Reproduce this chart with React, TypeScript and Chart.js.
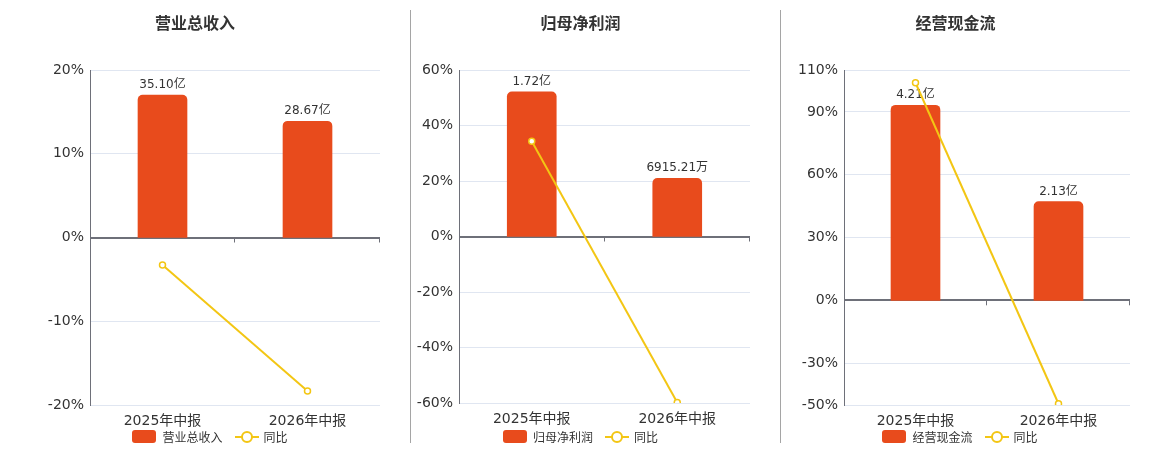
import React, { useEffect, useRef } from "react";
import { Chart, registerables } from "chart.js";

Chart.register(...registerables);

const FONT = "'DejaVu Sans', 'Noto Sans CJK SC', sans-serif";
Chart.defaults.font.family = FONT;

const categories = ["2025年中报", "2026年中报"];
const yoyName = "同比";

const revenueTitle = "营业总收入";
const revenueValues = [35.1, 28.67];
const revenueLabels = ["35.10亿", "28.67亿"];
const revenueYoY = [-3.27, -18.32];
const revenueTicks = [-20, -10, 0, 10, 20];

const profitTitle = "归母净利润";
const profitValues = [1.72, 0.6915];
const profitLabels = ["1.72亿", "6915.21万"];
const profitYoY = [34.3, -59.8];
const profitTicks = [-60, -40, -20, 0, 20, 40, 60];

const cashTitle = "经营现金流";
const cashValues = [4.21, 2.13];
const cashLabels = ["4.21亿", "2.13亿"];
const cashYoY = [103.9, -49.4];
const cashTicks = [-50, -30, 0, 30, 60, 90, 110];

const BAR_COLOR = "#e84b1c";
const LINE_COLOR = "#f3c614";
const AXIS_COLOR = "#6e7079";
const GRID_COLOR = "#e0e6f1";
const TEXT_COLOR = "#333";

// draws the value labels over the bars and the small ticks on the zero line
const decorPlugin = {
  id: "decor",
  beforeDatasetsDraw(chart: any) {
    const { ctx, chartArea, scales } = chart;
    const y0 = scales.y.getPixelForValue(0);
    const n = chart.data.labels.length;
    ctx.save();
    ctx.strokeStyle = AXIS_COLOR;
    ctx.lineWidth = 1;
    for (let i = 1; i <= n; i++) {
      const x = Math.round(chartArea.left + (i * (chartArea.right - chartArea.left)) / n) - 0.5;
      ctx.beginPath();
      ctx.moveTo(x, y0);
      ctx.lineTo(x, y0 + 5);
      ctx.stroke();
    }
    ctx.restore();
  },
  afterDatasetDraw(chart: any, args: any, opts: any) {
    if (args.index !== 0) return;
    const { ctx } = chart;
    const meta = chart.getDatasetMeta(0);
    ctx.save();
    ctx.font = `12px ${FONT}`;
    ctx.fillStyle = TEXT_COLOR;
    ctx.textAlign = "center";
    ctx.textBaseline = "bottom";
    meta.data.forEach((el: any, i: number) => {
      ctx.fillText(opts.labels[i], el.x, el.y - 4);
    });
    ctx.restore();
  },
};

interface PanelProps {
  title: string;
  values: number[];
  labels: string[];
  yoy: number[];
  ticks: number[];
  barMax: number;
  left: number;
  width: number;
  yWidth: number;
  padRight: number;
  plotBottom: number;
}

const Panel: React.FC<PanelProps> = ({
  title,
  values,
  labels,
  yoy,
  ticks,
  barMax,
  left,
  width,
  yWidth,
  padRight,
  plotBottom,
}) => {
  const chartRef = useRef<HTMLCanvasElement>(null);
  const chartInstance = useRef<Chart | null>(null);

  useEffect(() => {
    if (!chartRef.current) return;
    if (chartInstance.current) chartInstance.current.destroy();

    const tMin = ticks[0];
    const tMax = ticks[ticks.length - 1];
    const barMin = (barMax * tMin) / tMax;
    const xHeight = 25;
    const padBottom = 450 - plotBottom - xHeight;

    chartInstance.current = new Chart(chartRef.current, {
      type: "bar",
      data: {
        labels: categories,
        datasets: [
          {
            type: "bar",
            label: title,
            data: values,
            yAxisID: "y1",
            backgroundColor: BAR_COLOR,
            borderRadius: { topLeft: 5, topRight: 5, bottomLeft: 0, bottomRight: 0 },
            borderSkipped: "start",
            barThickness: 49,
            order: 1,
          },
          {
            type: "line",
            label: yoyName,
            data: yoy,
            yAxisID: "y",
            borderColor: LINE_COLOR,
            borderWidth: 2,
            pointRadius: 3,
            pointBackgroundColor: "#fff",
            pointBorderColor: LINE_COLOR,
            pointBorderWidth: 1.5,
            order: 0,
          },
        ],
      } as any,
      options: {
        animation: false,
        responsive: true,
        maintainAspectRatio: false,
        layout: {
          autoPadding: false,
          padding: { left: 0, right: padRight, top: 0, bottom: padBottom },
        },
        plugins: {
          legend: { display: false },
          tooltip: { enabled: false },
          title: {
            display: true,
            text: title,
            color: TEXT_COLOR,
            font: { size: 16, weight: "bold" },
            padding: { top: 15, bottom: 35.8 },
          },
          decor: { labels },
        } as any,
        scales: {
          x: {
            grid: { display: false, drawTicks: false },
            border: { display: false },
            ticks: { color: TEXT_COLOR, font: { size: 14 }, padding: 8 },
            afterFit: (s: any) => {
              s.height = xHeight;
            },
          },
          y: {
            position: "left",
            min: tMin,
            max: tMax,
            afterBuildTicks: (s: any) => {
              s.ticks = ticks.map((v) => ({ value: v }));
            },
            ticks: {
              color: TEXT_COLOR,
              font: { size: 14 },
              padding: 6,
              callback: (v: any) => `${v}%`,
            },
            grid: {
              color: (c: any) => (c.tick && c.tick.value === 0 ? AXIS_COLOR : GRID_COLOR),
              lineWidth: (c: any) => (c.tick && c.tick.value === 0 ? 2 : 1),
              drawTicks: false,
            },
            border: { display: true, color: AXIS_COLOR, width: 1 },
            afterFit: (s: any) => {
              s.width = yWidth;
            },
          },
          y1: { display: false, min: barMin, max: barMax },
        },
      } as any,
      plugins: [decorPlugin as any],
    });

    return () => {
      if (chartInstance.current) {
        chartInstance.current.destroy();
        chartInstance.current = null;
      }
    };
  }, [title, values, labels, yoy, ticks, barMax, yWidth, padRight, plotBottom]);

  return (
    <div style={{ position: "absolute", left, top: 0, width, height: 450 }}>
      <canvas ref={chartRef} />
      <div
        style={{
          position: "absolute",
          left: 0,
          top: 429,
          width,
          height: 15,
          display: "flex",
          justifyContent: "center",
          alignItems: "center",
          fontFamily: "'Noto Sans CJK SC', sans-serif",
          fontSize: 12,
          color: TEXT_COLOR,
          lineHeight: "15px",
        }}
      >
        <span
          style={{
            display: "inline-block",
            width: 24,
            height: 13,
            borderRadius: 3,
            background: BAR_COLOR,
            marginRight: 6,
          }}
        />
        <span style={{ marginRight: 12 }}>{title}</span>
        <span style={{ position: "relative", display: "inline-block", width: 24, height: 13, marginRight: 5 }}>
          <span
            style={{
              position: "absolute",
              left: 0,
              top: 5.5,
              width: 24,
              height: 2,
              background: LINE_COLOR,
            }}
          />
          <span
            style={{
              position: "absolute",
              left: 6,
              top: 0.5,
              width: 8,
              height: 8,
              borderRadius: "50%",
              border: `2px solid ${LINE_COLOR}`,
              background: "#fff",
            }}
          />
        </span>
        <span>{yoyName}</span>
      </div>
    </div>
  );
};

const Separator: React.FC<{ x: number }> = ({ x }) => (
  <div style={{ position: "absolute", left: x, top: 10, width: 1, height: 433, background: "#a5a5a5" }} />
);

export default function App() {
  return (
    <div style={{ position: "absolute", left: 0, top: 0, width: 1160, height: 450, background: "#fff" }}>
      <Panel
        title={revenueTitle}
        values={revenueValues}
        labels={revenueLabels}
        yoy={revenueYoY}
        ticks={revenueTicks}
        barMax={41.3}
        left={10}
        width={400}
        yWidth={80}
        padRight={30}
        plotBottom={405}
      />
      <Separator x={410} />
      <Panel
        title={profitTitle}
        values={profitValues}
        labels={profitLabels}
        yoy={profitYoY}
        ticks={profitTicks}
        barMax={1.98}
        left={411}
        width={339}
        yWidth={48}
        padRight={0}
        plotBottom={403}
      />
      <Separator x={780} />
      <Panel
        title={cashTitle}
        values={cashValues}
        labels={cashLabels}
        yoy={cashYoY}
        ticks={cashTicks}
        barMax={4.97}
        left={781}
        width={358}
        yWidth={63}
        padRight={9}
        plotBottom={405}
      />
    </div>
  );
}
